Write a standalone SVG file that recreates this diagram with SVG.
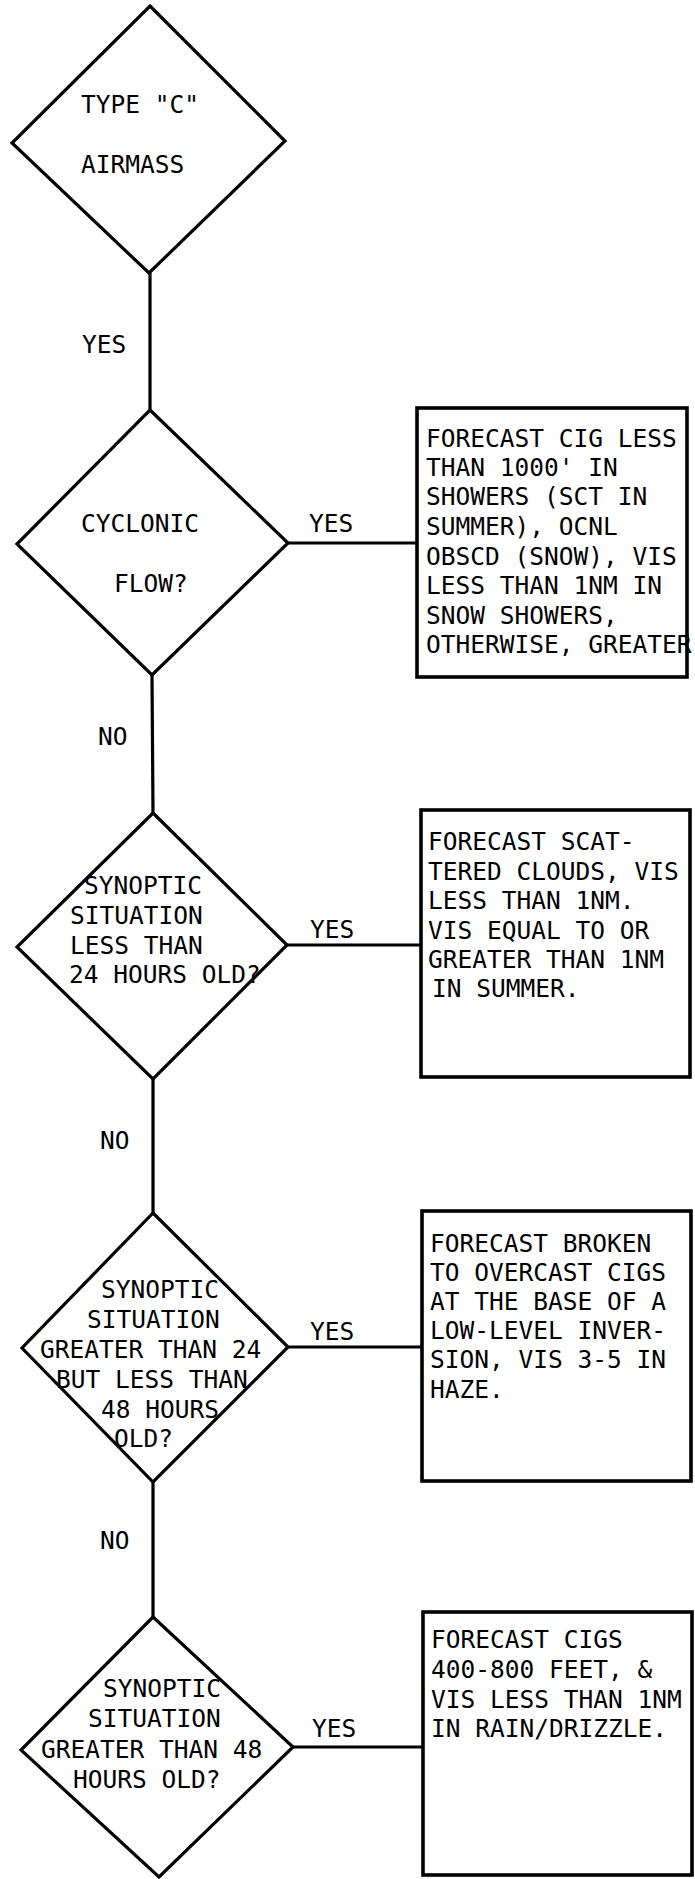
<svg xmlns="http://www.w3.org/2000/svg" width="695" height="1879" viewBox="0 0 695 1879">
<style>
.t{font-family:"DejaVu Sans Mono","Liberation Mono",monospace;font-size:24.5px;fill:#000}
.d{fill:#fff;stroke:#000;stroke-width:3.2;stroke-linejoin:miter}
.b{fill:#fff;stroke:#000;stroke-width:3.6}
.c{stroke:#000;stroke-width:3.2;fill:none}
</style>
<rect width="695" height="1879" fill="#fff"/>
<g id="connectors">
<line class="c" x1="150" y1="273" x2="150" y2="410"/>
<line class="c" x1="288" y1="543" x2="417" y2="543"/>
<line class="c" x1="152" y1="675" x2="153" y2="813"/>
<line class="c" x1="287" y1="945" x2="421" y2="945"/>
<line class="c" x1="153" y1="1079" x2="153" y2="1213"/>
<line class="c" x1="288" y1="1347" x2="422" y2="1347"/>
<line class="c" x1="153" y1="1482" x2="153" y2="1617"/>
<line class="c" x1="293" y1="1747" x2="423" y2="1747"/>
<text class="t" x="82" y="353">YES</text>
<text class="t" x="309" y="532">YES</text>
<text class="t" x="98" y="745">NO</text>
<text class="t" x="310" y="938">YES</text>
<text class="t" x="100" y="1149">NO</text>
<text class="t" x="310" y="1340">YES</text>
<text class="t" x="100" y="1549">NO</text>
<text class="t" x="312" y="1737">YES</text>
</g>
<g id="d1">
<polygon class="d" points="150,6 285,141 149,273 12,143"/>
<text class="t" x="81" y="113">TYPE "C"</text>
<text class="t" x="81" y="173">AIRMASS</text>
</g>
<g id="d2">
<polygon class="d" points="150,410 288,543 152,675 17,544"/>
<text class="t" x="81" y="532">CYCLONIC</text>
<text class="t" x="114" y="592">FLOW?</text>
</g>
<g id="b1">
<rect class="b" x="417" y="408" width="270" height="269"/>
<text class="t" x="426" y="447">FORECAST CIG LESS</text>
<text class="t" x="426" y="476">THAN 1000' IN</text>
<text class="t" x="426" y="505">SHOWERS (SCT IN</text>
<text class="t" x="426" y="535">SUMMER), OCNL</text>
<text class="t" x="426" y="565">OBSCD (SNOW), VIS</text>
<text class="t" x="426" y="594">LESS THAN 1NM IN</text>
<text class="t" x="426" y="624">SNOW SHOWERS,</text>
<text class="t" x="426" y="653">OTHERWISE, GREATER</text>
</g>
<g id="d3">
<polygon class="d" points="153,813 287,945 153,1079 17,947"/>
<text class="t" x="84" y="894">SYNOPTIC</text>
<text class="t" x="70" y="924">SITUATION</text>
<text class="t" x="70" y="954">LESS THAN</text>
<text class="t" x="69" y="983">24 HOURS OLD?</text>
</g>
<g id="b2">
<rect class="b" x="421" y="810" width="269" height="267"/>
<text class="t" x="428" y="850">FORECAST SCAT-</text>
<text class="t" x="428" y="880">TERED CLOUDS, VIS</text>
<text class="t" x="428" y="909">LESS THAN 1NM.</text>
<text class="t" x="428" y="939">VIS EQUAL TO OR</text>
<text class="t" x="428" y="968">GREATER THAN 1NM</text>
<text class="t" x="432" y="997">IN SUMMER.</text>
</g>
<g id="d4">
<polygon class="d" points="153,1213 288,1347 153,1482 22,1348"/>
<text class="t" x="101" y="1298">SYNOPTIC</text>
<text class="t" x="87" y="1328">SITUATION</text>
<text class="t" x="40" y="1358">GREATER THAN 24</text>
<text class="t" x="56" y="1388">BUT LESS THAN</text>
<text class="t" x="101" y="1418">48 HOURS</text>
<text class="t" x="114" y="1447">OLD?</text>
</g>
<g id="b3">
<rect class="b" x="422" y="1211" width="269" height="270"/>
<text class="t" x="430" y="1252">FORECAST BROKEN</text>
<text class="t" x="430" y="1281">TO OVERCAST CIGS</text>
<text class="t" x="430" y="1310">AT THE BASE OF A</text>
<text class="t" x="430" y="1339">LOW-LEVEL INVER-</text>
<text class="t" x="430" y="1368">SION, VIS 3-5 IN</text>
<text class="t" x="430" y="1398">HAZE.</text>
</g>
<g id="d5">
<polygon class="d" points="153,1617 293,1747 159,1877 21,1750"/>
<text class="t" x="103" y="1697">SYNOPTIC</text>
<text class="t" x="88" y="1727">SITUATION</text>
<text class="t" x="41" y="1758">GREATER THAN 48</text>
<text class="t" x="73" y="1788">HOURS OLD?</text>
</g>
<g id="b4">
<rect class="b" x="423" y="1612" width="269" height="263"/>
<text class="t" x="431" y="1648">FORECAST CIGS</text>
<text class="t" x="431" y="1678">400-800 FEET, &amp;</text>
<text class="t" x="431" y="1708">VIS LESS THAN 1NM</text>
<text class="t" x="431" y="1737">IN RAIN/DRIZZLE.</text>
</g>
</svg>
